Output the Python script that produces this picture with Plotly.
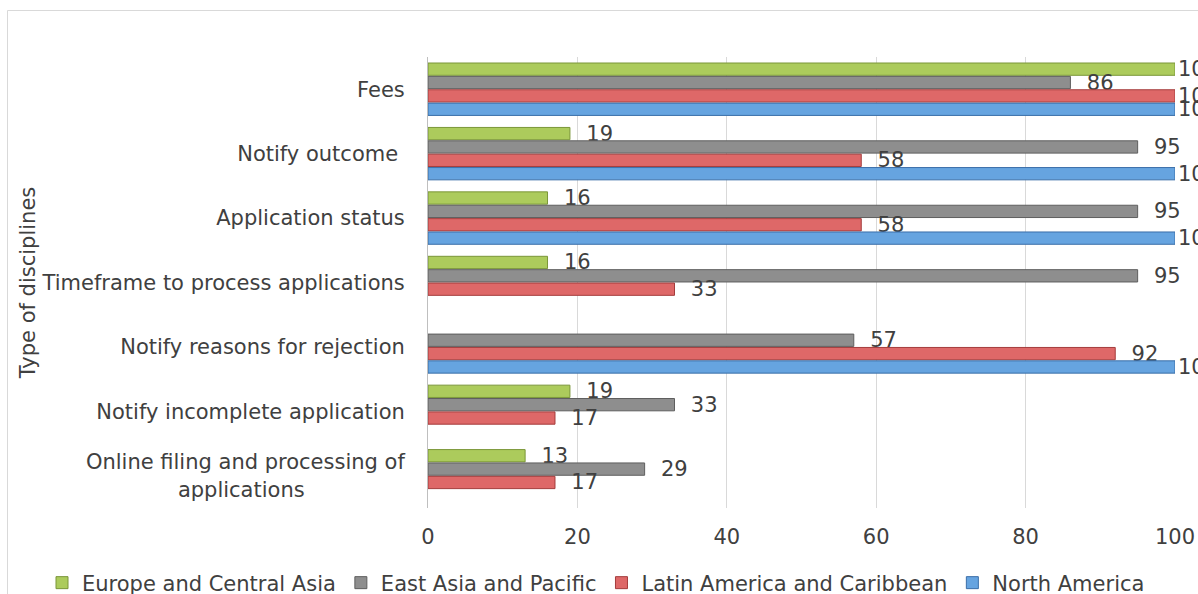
import plotly.graph_objects as go

# Categories, top to bottom as read in the chart
categories = [
    "Fees",
    "Notify outcome ",
    "Application status",
    "Timeframe to process applications",
    "Notify reasons for rejection",
    "Notify incomplete application",
    "Online filing and processing of applications",
]

series_names = [
    "Europe and Central Asia",
    "East Asia and Pacific",
    "Latin America and Caribbean",
    "North America",
]

europe_central_asia = [100, 19, 16, 16, None, 19, 13]
east_asia_pacific = [86, 95, 95, 95, 57, 33, 29]
latin_america_caribbean = [100, 58, 58, 33, 92, 17, 17]
north_america = [100, 100, 100, None, 100, None, None]

x_ticks = [0, 20, 40, 60, 80, 100]
y_title = "Type of disciplines"

series_values = [europe_central_asia, east_asia_pacific,
                 latin_america_caribbean, north_america]
fills = ["#ACCB5C", "#8E8E8E", "#DE6868", "#66A4E0"]
edges = ["#7A9638", "#5E5E5E", "#A43C3C", "#3A6EA8"]

FONT = "DejaVu Sans, Verdana, sans-serif"
TXT = "#404040"
NB = "\u00a0"


def tick_label(c):
    if c == "Online filing and processing of applications":
        return "Online filing and processing of<br>applications" + NB * 15
    if c.endswith(" "):
        return c.rstrip(" ") + NB
    return c


fig = go.Figure()
for name, vals, fc, ec in zip(series_names, series_values, fills, edges):
    templates = [("%{x}" if v == 100 else NB + NB + "%{x}") for v in vals]
    fig.add_trace(go.Bar(
        name=name,
        y=categories,
        x=vals,
        orientation="h",
        marker=dict(color=fc, line=dict(color=ec, width=1)),
        texttemplate=templates,
        textposition="outside",
        textfont=dict(family=FONT, size=21, color=TXT),
        constraintext="none",
        cliponaxis=False,
        hoverinfo="x+y+name",
    ))

# Chart-area border (light grey frame, cut by the picture's edges)
plot_l, plot_r, plot_t, plot_b = 428, 1175, 57, 508
pw, ph = plot_r - plot_l, plot_b - plot_t
fig.add_shape(type="rect", xref="paper", yref="paper",
              x0=(7.5 - plot_l) / pw, x1=(1230 - plot_l) / pw,
              y0=(plot_b - 640) / ph, y1=(plot_b - 10.5) / ph,
              line=dict(color="#D9D9D9", width=1), fillcolor="rgba(0,0,0,0)",
              layer="below")

fig.update_layout(
    width=1198, height=594,
    margin=dict(l=plot_l, r=1198 - plot_r, t=plot_t, b=594 - plot_b,
                autoexpand=False),
    paper_bgcolor="white",
    plot_bgcolor="white",
    barmode="group",
    bargap=0.17,
    bargroupgap=0.08,
    font=dict(family=FONT, size=21, color=TXT),
    showlegend=True,
    legend=dict(
        orientation="h",
        x=(42 - plot_l) / pw, xanchor="left",
        y=(plot_b - 583) / ph, yanchor="middle",
        font=dict(family=FONT, size=21, color=TXT),
        traceorder="normal",
        itemwidth=30,
        bgcolor="rgba(0,0,0,0)",
    ),
    xaxis=dict(
        range=[0, 100],
        tickvals=x_ticks,
        showgrid=True,
        gridcolor="#D9D9D9",
        gridwidth=1,
        zeroline=False,
        showline=False,
        ticks="",
        ticklabelstandoff=14,
        tickfont=dict(family=FONT, size=21, color=TXT),
        fixedrange=True,
    ),
    yaxis=dict(
        categoryorder="array",
        categoryarray=categories,
        tickvals=categories,
        ticktext=[tick_label(c) for c in categories],
        autorange="reversed",
        showline=True,
        linecolor="#BFBFBF",
        linewidth=1,
        showgrid=False,
        ticks="",
        ticklabelstandoff=18,
        tickfont=dict(family=FONT, size=21, color=TXT),
        title=dict(text=y_title, font=dict(family=FONT, size=21, color=TXT),
                   standoff=0),
        automargin=False,
        fixedrange=True,
    ),
)

fig.write_html(
    "out.html",
    config={"displayModeBar": False},
    post_script="document.body.style.margin='0';document.body.style.overflow='hidden';",
)
